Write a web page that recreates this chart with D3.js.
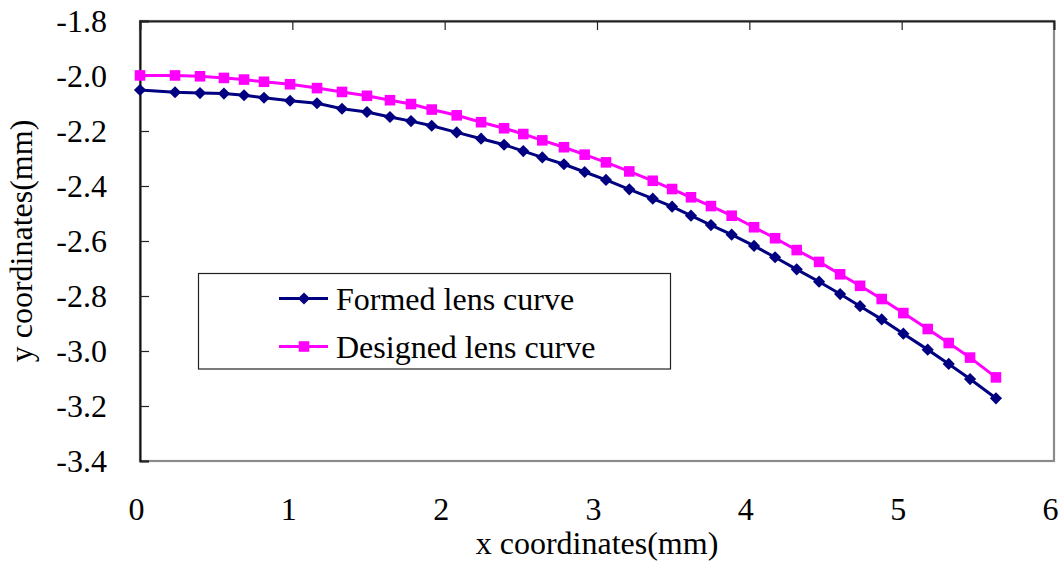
<!DOCTYPE html>
<html>
<head>
<meta charset="utf-8">
<script src="https://cdn.jsdelivr.net/npm/d3@7"></script>
<style>
  body { margin: 0; background: #fff; }
  svg text { font-family: "Liberation Serif", "Times New Roman", serif !important; fill: #000; }
</style>
</head>
<body>
<script>
// x positions (mm), shared by both curves
var xs = [0, 0.23, 0.394, 0.551, 0.683, 0.814, 0.985, 1.162, 1.326, 1.49,
          1.641, 1.779, 1.915, 2.079, 2.239, 2.39, 2.516, 2.641, 2.783, 2.919,
          3.059, 3.212, 3.366, 3.493, 3.617, 3.748, 3.884, 4.031, 4.169, 4.311,
          4.458, 4.596, 4.727, 4.869, 5.011, 5.171, 5.309, 5.449, 5.619];

var formed = [-2.051, -2.059, -2.062, -2.064, -2.07, -2.079, -2.09, -2.099, -2.119, -2.131,
              -2.149, -2.164, -2.181, -2.205, -2.228, -2.25, -2.273, -2.296, -2.321, -2.349,
              -2.378, -2.412, -2.446, -2.475, -2.508, -2.542, -2.577, -2.618, -2.659, -2.703,
              -2.748, -2.793, -2.837, -2.885, -2.937, -2.995, -3.047, -3.102, -3.172];

var designed = [-1.998, -1.998, -2.001, -2.007, -2.013, -2.021, -2.03, -2.044, -2.058, -2.072,
                -2.088, -2.102, -2.122, -2.143, -2.168, -2.19, -2.211, -2.234, -2.259, -2.286,
                -2.314, -2.347, -2.381, -2.411, -2.441, -2.473, -2.508, -2.55, -2.59, -2.633,
                -2.676, -2.721, -2.763, -2.811, -2.862, -2.92, -2.971, -3.024, -3.096];

var xTicks = [0, 1, 2, 3, 4, 5, 6];
var yTicks = [-1.8, -2.0, -2.2, -2.4, -2.6, -2.8, -3.0, -3.2, -3.4];
var seriesNames = ["Formed lens curve", "Designed lens curve"];

var FONT = "Liberation Serif";
var FS = 32;

var margin = {top: 21, right: 10, bottom: 106, left: 140};

var svg = d3.select("body").append("svg")
    .attr("width", 1064)
    .attr("height", 567);

var g = svg.append("g")
    .attr("transform", `translate(${margin.left},${margin.top})`);

var x = d3.scaleLinear().domain([0, 6]).range([0, 914]);
var y = d3.scaleLinear().domain([-1.8, -3.4]).range([0, 440]);

// plot area border
g.append("rect")
    .attr("x", 0).attr("y", 0)
    .attr("width", x(6)).attr("height", y(-3.4))
    .attr("fill", "#fff")
    .attr("stroke", "#8a8a8a")
    .attr("stroke-width", 2.2);

// y axis, ticks pointing inward
var yAxis = g.append("g")
    .call(d3.axisLeft(y).tickValues(yTicks).tickSize(-9).tickPadding(33)
        .tickFormat(d => d.toFixed(1)))
    .attr("font-family", FONT)
    .attr("font-size", FS);
yAxis.select(".domain").attr("stroke", "#111").attr("stroke-width", 2);
yAxis.selectAll("line").attr("stroke", "#222").attr("stroke-width", 1.2);
yAxis.selectAll("text").attr("font-family", FONT).attr("font-size", FS).attr("fill", "#000");

// x axis line sits at top (-1.8), ticks pointing down
var xTop = g.append("g")
    .call(d3.axisTop(x).tickValues(xTicks).tickSize(-9).tickFormat(""));
xTop.select(".domain").attr("stroke", "#222").attr("stroke-width", 2);
xTop.selectAll("line").attr("stroke", "#222").attr("stroke-width", 1.2);

// x labels at bottom
var xBot = g.append("g")
    .attr("transform", `translate(-4,${y(-3.4)})`)
    .call(d3.axisBottom(x).tickValues(xTicks).tickSize(0).tickPadding(36)
        .tickFormat(d3.format("d")))
    .attr("font-family", FONT)
    .attr("font-size", FS);
xBot.select(".domain").remove();
xBot.selectAll("text").attr("font-family", FONT).attr("font-size", FS).attr("fill", "#000");

// series
var series = [
  {name: seriesNames[0], values: formed, color: "#000080", rot: 45, size: 74},
  {name: seriesNames[1], values: designed, color: "#ff00ff", rot: 0, size: 112}
];

var line = d3.line()
    .x(d => x(d[0]))
    .y(d => y(d[1]));

series.forEach(s => {
  var pts = xs.map((v, i) => [v, s.values[i]]);
  g.append("path")
      .datum(pts)
      .attr("fill", "none")
      .attr("stroke", s.color)
      .attr("stroke-width", 3)
      .attr("d", line);
  g.selectAll(null)
      .data(pts)
      .enter()
      .append("path")
      .attr("transform", d => `translate(${x(d[0])},${y(d[1])}) rotate(${s.rot})`)
      .attr("d", d3.symbol().type(d3.symbolSquare).size(s.size))
      .attr("fill", s.color);
});

// legend
var legend = svg.append("g");
legend.append("rect")
    .attr("x", 198.5).attr("y", 273.5)
    .attr("width", 472).attr("height", 95.5)
    .attr("fill", "#fff")
    .attr("stroke", "#222")
    .attr("stroke-width", 1.2);

var rowY = [298.5, 346.5];
series.forEach((s, i) => {
  legend.append("line")
      .attr("x1", 279).attr("x2", 328)
      .attr("y1", rowY[i]).attr("y2", rowY[i])
      .attr("stroke", s.color).attr("stroke-width", 3);
  legend.append("path")
      .attr("transform", `translate(304,${rowY[i]}) rotate(${s.rot})`)
      .attr("d", d3.symbol().type(d3.symbolSquare).size(s.size))
      .attr("fill", s.color);
  legend.append("text")
      .attr("x", 336).attr("y", rowY[i] + 11)
      .attr("font-family", FONT)
      .attr("font-size", FS)
      .text(s.name);
});

// axis titles
svg.append("text")
    .attr("x", 597).attr("y", 554)
    .attr("text-anchor", "middle")
    .attr("font-family", FONT)
    .attr("font-size", FS)
    .text("x coordinates(mm)");

svg.append("text")
    .attr("transform", "translate(32,241) rotate(-90)")
    .attr("text-anchor", "middle")
    .attr("font-family", FONT)
    .attr("font-size", FS)
    .text("y coordinates(mm)");
</script>
</body>
</html>
